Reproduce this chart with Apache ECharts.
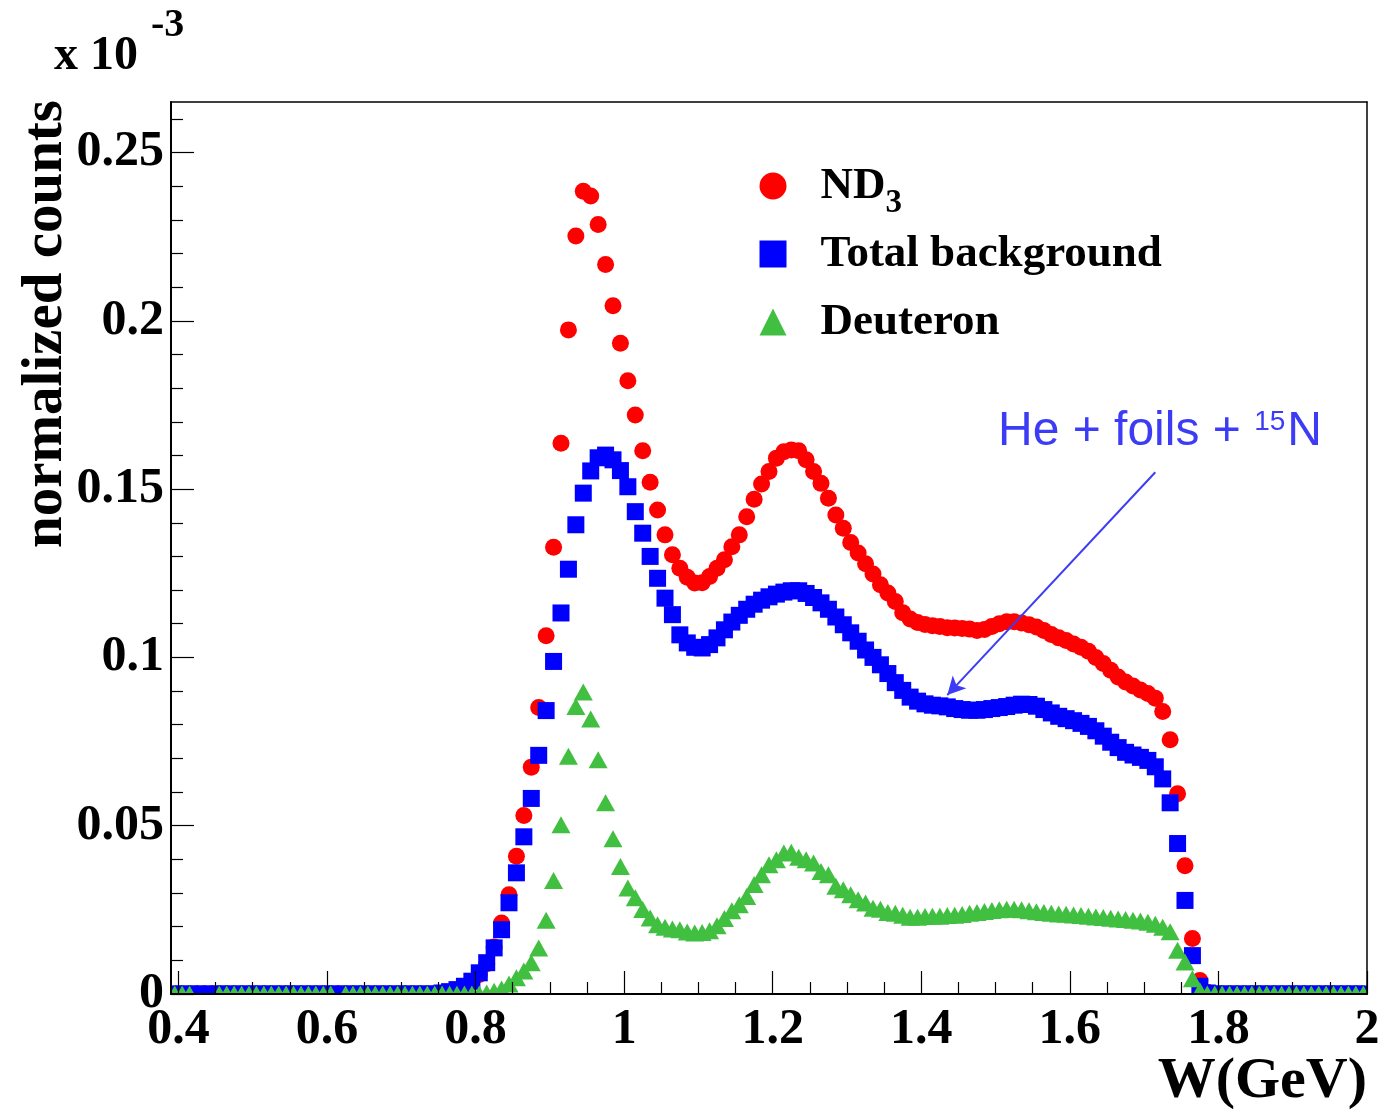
<!DOCTYPE html>
<html>
<head>
<meta charset="utf-8">
<title>W distribution: ND3, total background, deuteron</title>
<script src="https://cdn.jsdelivr.net/npm/echarts@6/dist/echarts.min.js"></script>
<style>
  html, body { margin: 0; padding: 0; background: #ffffff; }
  #chart { width: 1386px; height: 1113px; }
</style>
</head>
<body>
<div id="chart"></div>
<script>
// Histogram binning in W (GeV): 161 bins of 0.01 starting at 0.39
const binLow = 0.39;
const binWidth = 0.01;
const nBins = 161;
const wCenters = Array.from({ length: nBins }, (_, i) => +(binLow + binWidth * (i + 0.5)).toFixed(3));

// Normalized counts (x 10^-3) per bin
const nd3Counts = [
  0, 0, 0, 0, 0, 0, 0, 0, 0, 0,
  0, 0, 0, 0, 0, 0, 0, 0, 0, 0,
  0, 0, 0, 0, 0, 0, 0, 0, 0, 0,
  0, 0, 0, 0, 0, 0, 0, 0,
  0.0010, 0.0020, 0.0035, 0.0058, 0.0090, 0.0140, 0.0211, 0.0295, 0.0409, 0.0530,
  0.0674, 0.0851, 0.1064, 0.1327, 0.1636, 0.1973, 0.2252, 0.2385, 0.2371, 0.2286,
  0.2167, 0.2045, 0.1933, 0.1822, 0.1720, 0.1614, 0.1520, 0.1438, 0.1364, 0.1305,
  0.1265, 0.1238, 0.1221, 0.1222, 0.1240, 0.1265, 0.1290, 0.1329, 0.1364, 0.1418,
  0.1470, 0.1515, 0.1552, 0.1592, 0.1611, 0.1616, 0.1614, 0.1587, 0.1552, 0.1517,
  0.1473, 0.1423, 0.1384, 0.1341, 0.1310, 0.1278, 0.1248, 0.1216, 0.1191, 0.1166,
  0.1133, 0.1114, 0.1104, 0.1098, 0.1094, 0.1092, 0.1088, 0.1087, 0.1086, 0.1084,
  0.1080, 0.1083, 0.1092, 0.1100, 0.1106, 0.1106, 0.1102, 0.1097, 0.1090, 0.1080,
  0.1068, 0.1058, 0.1050, 0.1040, 0.1030, 0.1018, 0.1000, 0.0982, 0.0962, 0.0942,
  0.0927, 0.0915, 0.0903, 0.0893, 0.0879, 0.0839, 0.0755, 0.0595, 0.0381, 0.0165,
  0.0040, 0.0005,
  0, 0, 0, 0, 0, 0, 0, 0, 0, 0,
  0, 0, 0, 0, 0, 0, 0, 0, 0, 0, 0
];

const backgroundCounts = [
  0, 0, 0, 0, 0, 0, 0, 0, 0, 0,
  0, 0, 0, 0, 0, 0, 0, 0, 0, 0,
  0, 0, 0, 0, 0, 0, 0, 0, 0, 0,
  0, 0, 0, 0, 0, 0,
  0.0003, 0.0007, 0.0013, 0.0023, 0.0038, 0.0063, 0.0093, 0.0137, 0.0191, 0.0271,
  0.0360, 0.0467, 0.0581, 0.0709, 0.0842, 0.0988, 0.1132, 0.1262, 0.1394, 0.1488,
  0.1554, 0.1593, 0.1601, 0.1587, 0.1555, 0.1507, 0.1433, 0.1369, 0.1300, 0.1235,
  0.1176, 0.1127, 0.1067, 0.1043, 0.1030, 0.1028, 0.1038, 0.1058, 0.1082, 0.1105,
  0.1125, 0.1143, 0.1158, 0.1170, 0.1180, 0.1188, 0.1194, 0.1198, 0.1198, 0.1190,
  0.1178, 0.1162, 0.1143, 0.1120, 0.1097, 0.1073, 0.1048, 0.1022, 0.1000, 0.0978,
  0.0952, 0.0925, 0.0902, 0.0882, 0.0870, 0.0862, 0.0858, 0.0856, 0.0853, 0.0848,
  0.0845, 0.0843, 0.0843, 0.0845, 0.0848, 0.0851, 0.0854, 0.0858, 0.0861, 0.0860,
  0.0855, 0.0845, 0.0835, 0.0825, 0.0818, 0.0812, 0.0804, 0.0795, 0.0782, 0.0766,
  0.0748, 0.0732, 0.0718, 0.0710, 0.0703, 0.0694, 0.0675, 0.0639, 0.0568, 0.0447,
  0.0278, 0.0114, 0.0023, 0.0003,
  0, 0, 0, 0, 0, 0, 0, 0, 0, 0,
  0, 0, 0, 0, 0, 0, 0, 0, 0, 0, 0
];

// null = empty bin, no marker drawn
const deuteronCounts = [
  0, 0, 0, null, null, null, 0, 0, 0, 0,
  0, 0, 0, 0, 0, 0, 0, 0, 0, 0,
  0, 0, null, 0, 0, 0, 0, 0, 0, 0,
  0, 0, 0, 0, 0, 0, 0, 0, 0, 0,
  0, 0,
  0.0003, 0.0008, 0.0015, 0.0030, 0.0048, 0.0068, 0.0093, 0.0137,
  0.0219, 0.0337, 0.0503, 0.0706, 0.0854, 0.0897, 0.0817, 0.0696, 0.0568, 0.0461,
  0.0379, 0.0315, 0.0286, 0.0251, 0.0226, 0.0206, 0.0198, 0.0193, 0.0191, 0.0184,
  0.0181, 0.0183, 0.0188, 0.0203, 0.0224, 0.0247, 0.0265, 0.0290, 0.0325, 0.0354,
  0.0384, 0.0399, 0.0419, 0.0421, 0.0406, 0.0399, 0.0389, 0.0364, 0.0354, 0.0320,
  0.0310, 0.0295, 0.0280, 0.0270, 0.0255, 0.0252, 0.0242, 0.0240, 0.0234, 0.0228,
  0.0228, 0.0230, 0.0231, 0.0231, 0.0233, 0.0234, 0.0236, 0.0240, 0.0242, 0.0245,
  0.0248, 0.0250, 0.0252, 0.0252, 0.0250, 0.0247, 0.0244, 0.0242, 0.0240, 0.0238,
  0.0237, 0.0235, 0.0233, 0.0231, 0.0229, 0.0227, 0.0225, 0.0223, 0.0221, 0.0219,
  0.0217, 0.0213, 0.0207, 0.0198, 0.0185, 0.0130, 0.0095, 0.0045, 0.0010, 0,
  0, 0, 0, 0, 0, 0, 0, 0, 0, 0,
  0, 0, 0, 0, 0, 0, 0, 0, 0, 0, 0
];

// Axis ticks and labels
const xMajorTicks = [0.4, 0.6, 0.8, 1.0, 1.2, 1.4, 1.6, 1.8, 2.0];
const xMinorTicks = [0.45, 0.5, 0.55, 0.65, 0.7, 0.75, 0.85, 0.9, 0.95, 1.05, 1.1, 1.15,
  1.25, 1.3, 1.35, 1.45, 1.5, 1.55, 1.65, 1.7, 1.75, 1.85, 1.9, 1.95];
const yMajorTicks = [0, 0.05, 0.1, 0.15, 0.2, 0.25];
const yMinorTicks = [0.01, 0.02, 0.03, 0.04, 0.06, 0.07, 0.08, 0.09, 0.11, 0.12, 0.13, 0.14,
  0.16, 0.17, 0.18, 0.19, 0.21, 0.22, 0.23, 0.24, 0.26];

const xMin = 0.39, xMax = 2.0, yMin = 0, yMax = 0.265;

const serif = 'Liberation Serif, Times New Roman, serif';
const sans = 'Liberation Sans, Arial, sans-serif';
const annotationBlue = '#3c3cf6';

function toPoints(values) {
  const pts = [];
  values.forEach((v, i) => { if (v !== null) pts.push([wCenters[i], v]); });
  return pts;
}

const gridLeft = 171, gridTop = 102, gridRight = 1367, gridBottom = 994;

const chart = echarts.init(document.getElementById('chart'), null, { renderer: 'canvas' });

const tickLabelStyle = {
  fontFamily: serif, fontWeight: 'bold', fontSize: 50, color: '#000'
};

chart.setOption({
  animation: false,
  backgroundColor: '#ffffff',
  grid: {
    left: gridLeft, top: gridTop,
    width: gridRight - gridLeft, height: gridBottom - gridTop,
    containLabel: false, show: false
  },
  xAxis: [
    {
      type: 'value', min: xMin, max: xMax, position: 'bottom', z: 20,
      axisLine: { show: true, onZero: false, lineStyle: { color: '#000', width: 2 } },
      axisTick: { show: true, inside: true, length: 23, customValues: xMajorTicks,
        lineStyle: { color: '#000', width: 1.2 } },
      axisLabel: Object.assign({ show: true, margin: 11, customValues: xMajorTicks,
        formatter: v => String(+v.toFixed(2)) }, tickLabelStyle),
      splitLine: { show: false }
    },
    {
      type: 'value', min: xMin, max: xMax, position: 'bottom', z: 20,
      axisLine: { show: false },
      axisTick: { show: true, inside: true, length: 12, customValues: xMinorTicks,
        lineStyle: { color: '#000', width: 1.2 } },
      axisLabel: { show: false },
      splitLine: { show: false }
    },
    {
      type: 'value', min: xMin, max: xMax, position: 'top', z: 20,
      axisLine: { show: true, onZero: false, lineStyle: { color: '#000', width: 1.5 } },
      axisTick: { show: false }, axisLabel: { show: false }, splitLine: { show: false }
    }
  ],
  yAxis: [
    {
      type: 'value', min: yMin, max: yMax, position: 'left', z: 20,
      axisLine: { show: true, onZero: false, lineStyle: { color: '#000', width: 2 } },
      axisTick: { show: true, inside: true, length: 23, customValues: yMajorTicks,
        lineStyle: { color: '#000', width: 1.2 } },
      axisLabel: Object.assign({ show: true, margin: 7, customValues: yMajorTicks,
        formatter: v => String(+v.toFixed(3)) }, tickLabelStyle),
      splitLine: { show: false }
    },
    {
      type: 'value', min: yMin, max: yMax, position: 'left', z: 20,
      axisLine: { show: false },
      axisTick: { show: true, inside: true, length: 12, customValues: yMinorTicks,
        lineStyle: { color: '#000', width: 1.2 } },
      axisLabel: { show: false },
      splitLine: { show: false }
    },
    {
      type: 'value', min: yMin, max: yMax, position: 'right', z: 20,
      axisLine: { show: true, onZero: false, lineStyle: { color: '#000', width: 1.5 } },
      axisTick: { show: false }, axisLabel: { show: false }, splitLine: { show: false }
    }
  ],
  legend: {
    orient: 'vertical', left: 759.5, top: 152, padding: 0,
    itemWidth: 27, itemHeight: 27, itemGap: 0,
    selectedMode: false,
    formatter: name => name === 'ND3' ? '{nd|ND}{sub|3}' : name,
    textStyle: {
      fontFamily: serif, fontWeight: 'bold', fontSize: 45, color: '#000',
      lineHeight: 68, padding: [0, 0, 0, 29],
      rich: {
        nd: { fontFamily: serif, fontWeight: 'bold', fontSize: 45, color: '#000',
          lineHeight: 68, verticalAlign: 'middle' },
        sub: { fontFamily: serif, fontWeight: 'bold', fontSize: 33, color: '#000',
          verticalAlign: 'middle', lineHeight: 20, padding: [34, 0, 0, 0] }
      }
    },
    data: [
      { name: 'ND3', icon: 'circle' },
      { name: 'Total background', icon: 'rect' },
      { name: 'Deuteron', icon: 'triangle' }
    ]
  },
  series: [
    {
      name: 'ND3', type: 'scatter', xAxisIndex: 0, yAxisIndex: 0,
      symbol: 'circle', symbolSize: 17,
      itemStyle: { color: '#ff0000', opacity: 1 },
      emphasis: { disabled: true },
      data: toPoints(nd3Counts)
    },
    {
      name: 'Total background', type: 'scatter', xAxisIndex: 0, yAxisIndex: 0,
      symbol: 'rect', symbolSize: 17,
      itemStyle: { color: '#0000ff', opacity: 1 },
      emphasis: { disabled: true },
      data: toPoints(backgroundCounts),
      markLine: {
        silent: true,
        symbol: ['none', 'arrow'],
        symbolSize: [14, 18],
        label: { show: false },
        lineStyle: { color: annotationBlue, width: 2, type: 'solid', opacity: 1 },
        emphasis: { disabled: true },
        data: [[{ coord: [1.715, 0.155] }, { coord: [1.435, 0.0888] }]]
      }
    },
    {
      name: 'Deuteron', type: 'scatter', xAxisIndex: 0, yAxisIndex: 0,
      symbol: 'triangle', symbolSize: [19, 17],
      itemStyle: { color: '#40bf40', opacity: 1 },
      emphasis: { disabled: true },
      data: toPoints(deuteronCounts)
    }
  ],
  graphic: {
    elements: [
      // white margins keep the markers inside the frame
      { type: 'rect', z: 10, silent: true,
        shape: { x: 0, y: gridBottom + 1, width: 1386, height: 1113 - gridBottom },
        style: { fill: '#ffffff' } },
      { type: 'rect', z: 10, silent: true,
        shape: { x: 0, y: 0, width: gridLeft - 1, height: gridBottom + 1 },
        style: { fill: '#ffffff' } },
      { type: 'rect', z: 10, silent: true,
        shape: { x: gridRight + 1, y: 0, width: 1386 - gridRight, height: gridBottom + 1 },
        style: { fill: '#ffffff' } },
      // axis titles and exponent
      { type: 'text', z: 30, x: 46, y: 100, rotation: Math.PI / 2,
        style: { text: 'normalized counts', fontFamily: serif, fontWeight: 'bold',
          fontSize: 57, fill: '#000', align: 'right', verticalAlign: 'middle' } },
      { type: 'text', z: 30, x: 1367, y: 1082,
        style: { text: 'W(GeV)', fontFamily: serif, fontWeight: 'bold',
          fontSize: 58, fill: '#000', align: 'right', verticalAlign: 'middle' } },
      { type: 'text', z: 30, x: 54, y: 57,
        style: { text: 'x 10', fontFamily: serif, fontWeight: 'bold',
          fontSize: 48, fill: '#000', align: 'left', verticalAlign: 'middle' } },
      { type: 'text', z: 30, x: 151, y: 26,
        style: { text: '-3', fontFamily: serif, fontWeight: 'bold',
          fontSize: 40, fill: '#000', align: 'left', verticalAlign: 'middle' } },
      // annotation for the background components
      { type: 'text', z: 30, x: 998, y: 404,
        style: {
          text: '{a|He + foils + }{s|15}{a|N}',
          align: 'left', verticalAlign: 'top',
          rich: {
            a: { fontFamily: sans, fontSize: 48, fill: annotationBlue, lineHeight: 52, verticalAlign: 'bottom' },
            s: { fontFamily: sans, fontSize: 28, fill: annotationBlue, lineHeight: 52, verticalAlign: 'top', padding: [4, 2, 0, 0] }
          }
        } }
    ]
  }
});
</script>
</body>
</html>
